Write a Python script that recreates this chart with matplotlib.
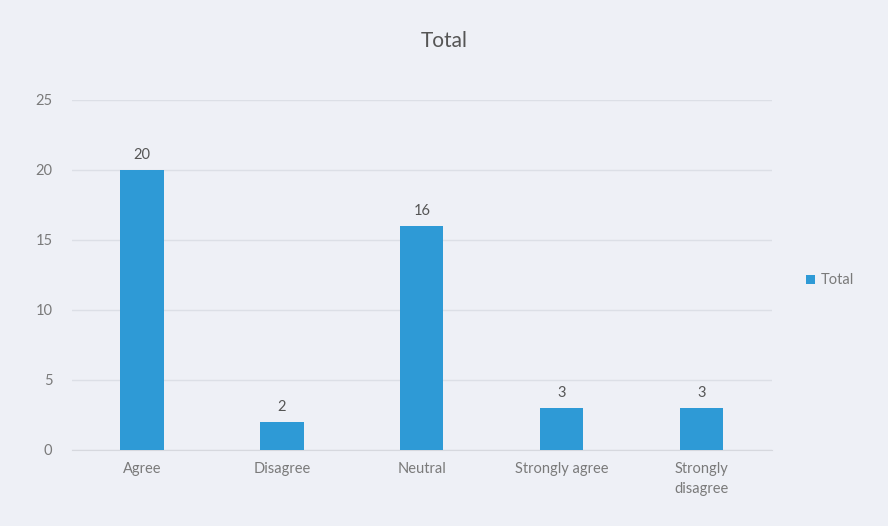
import matplotlib
matplotlib.use("Agg")
import matplotlib.pyplot as plt

categories = ["Agree", "Disagree", "Neutral", "Strongly agree", "Strongly\ndisagree"]
values = [20, 2, 16, 3, 3]
yticks = [0, 5, 10, 15, 20, 25]
series_name = "Total"
title = "Total"

plt.rcParams['font.family'] = ['Lato', 'DejaVu Sans']

bg = "#eef0f6"
bar_color = "#2e9ad6"
text_color = "#7a7a7a"

fig = plt.figure(figsize=(8.88, 5.26), dpi=100, facecolor=bg)
ax = fig.add_axes([0.081, 0.1445, 0.788, 0.6654], facecolor=bg)

x = list(range(len(categories)))
bars = ax.bar(x, values, width=0.31, color=bar_color, label=series_name, zorder=3)
for xi, v in zip(x, values):
    ax.text(xi, v + 0.6, str(v), ha="center", va="bottom", fontsize=10.5, color="#555555")

ax.set_xlim(-0.5, len(categories) - 0.5)
ax.set_ylim(0, 25)
ax.set_yticks(yticks)
ax.set_yticklabels([str(t) for t in yticks], fontsize=10.5, color=text_color)
ax.set_xticks(x)
ax.set_xticklabels(categories, fontsize=10.5, color=text_color, linespacing=1.5)
ax.tick_params(axis="both", length=0, pad=9)
ax.tick_params(axis="y", pad=14)
ax.grid(axis="y", color="#dcdfe6", linewidth=1, zorder=0)
for s in ["top", "right", "left"]:
    ax.spines[s].set_visible(False)
ax.spines["bottom"].set_color("#d6d8de")

fig.text(0.5, 0.923, title, ha="center", va="center", fontsize=15, color="#555555")

leg = fig.legend(handles=[bars], labels=[series_name], loc="center left",
                 bbox_to_anchor=(0.893, 0.467), frameon=False, fontsize=10.5,
                 handlelength=0.6, handleheight=0.6, handletextpad=0.4)
for t in leg.get_texts():
    t.set_color(text_color)

fig.savefig("out.png", dpi=100, facecolor=bg)
